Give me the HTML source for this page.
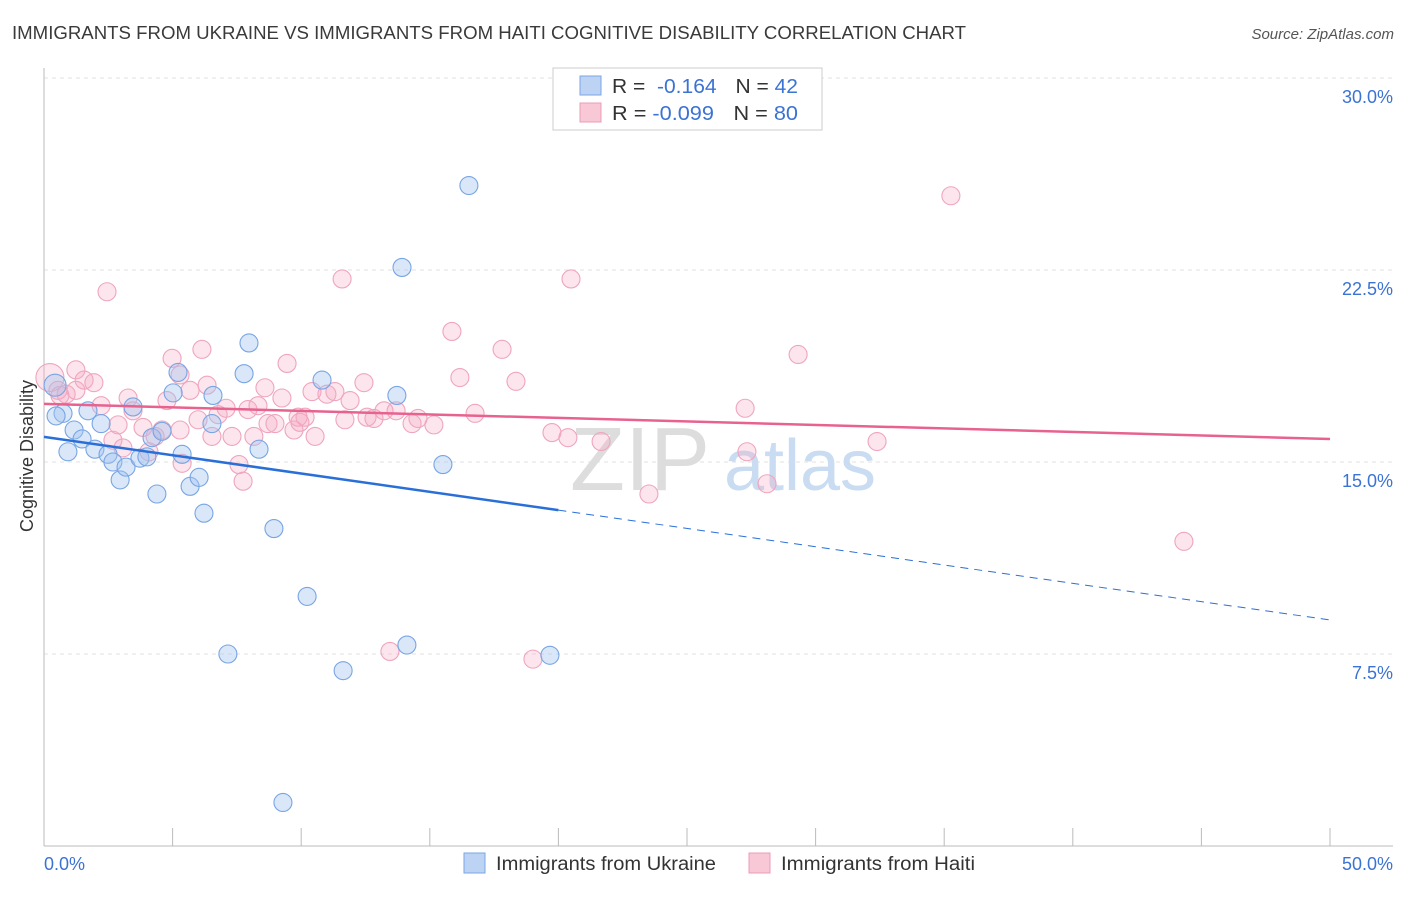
<!DOCTYPE html>
<html><head><meta charset="utf-8"><style>
body{margin:0;background:#fff;font-family:"Liberation Sans",sans-serif;}
svg text{font-family:"Liberation Sans",sans-serif;}
</style></head><body>
<svg id="chart" width="1406" height="892" xmlns="http://www.w3.org/2000/svg">
<text x="12" y="39" font-size="18" fill="#3a3a3a" textLength="954" lengthAdjust="spacingAndGlyphs">IMMIGRANTS FROM UKRAINE VS IMMIGRANTS FROM HAITI COGNITIVE DISABILITY CORRELATION CHART</text>
<text x="1394" y="39" font-size="15" fill="#555" font-style="italic" text-anchor="end">Source: ZipAtlas.com</text>
<g id="grid"></g>
<text x="640" y="490" font-size="90" fill="#ddd" text-anchor="middle" font-family="Liberation Serif">ZIP</text>
<text x="800" y="490" font-size="72" fill="#c9dcf2" text-anchor="middle">atlas</text>
<line x1="44" y1="68" x2="44" y2="846" stroke="#bbb"/>
<line x1="44" y1="846" x2="1393" y2="846" stroke="#bbb"/>
<g id="xticks"></g>
<text x="33" y="456" font-size="18" fill="#333" text-anchor="middle" transform="rotate(-90 33 456)">Cognitive Disability</text>
<text x="44" y="870" font-size="18" fill="#3b73d4">0.0%</text>
<text x="1393" y="870" font-size="18" fill="#3b73d4" text-anchor="end">50.0%</text>
<g id="pts"></g>
<g id="trends"></g>
<g>
<rect x="553" y="68" width="269" height="62" fill="#fff" stroke="#ccc"/>
<rect x="580" y="76" width="21" height="19" fill="#bcd3f3" stroke="#7aa6e6"/>
<rect x="580" y="103" width="21" height="19" fill="#f9c8d7" stroke="#ec9bb5"/>
<text x="612" y="93" font-size="20" fill="#333" textLength="186" lengthAdjust="spacingAndGlyphs">R = <tspan fill="#3b73d4">&#160;-0.164</tspan><tspan dx="18">N = </tspan><tspan fill="#3b73d4">42</tspan></text>
<text x="612" y="120" font-size="20" fill="#333" textLength="186" lengthAdjust="spacingAndGlyphs">R = <tspan fill="#3b73d4">-0.099</tspan><tspan dx="18">N = </tspan><tspan fill="#3b73d4">80</tspan></text>
</g>
<g>
<rect x="464" y="853" width="21" height="20" fill="#bcd3f3" stroke="#7aa6e6"/>
<text x="496" y="870" font-size="19" fill="#333" textLength="220" lengthAdjust="spacingAndGlyphs">Immigrants from Ukraine</text>
<rect x="749" y="853" width="21" height="20" fill="#f9c8d7" stroke="#ec9bb5"/>
<text x="781" y="870" font-size="19" fill="#333" textLength="194" lengthAdjust="spacingAndGlyphs">Immigrants from Haiti</text>
</g>
</svg>
<script>
const yTicks=[7.5,15,22.5,30];
const yTickLabels=["7.5%","15.0%","22.5%","30.0%"];
const xTicks=[0,5,10,15,20,25,30,35,40,45,50];
const ukraineX=[0.43,0.74,0.47,0.93,1.17,1.48,1.71,1.98,2.22,2.49,2.68,2.96,3.19,3.46,3.73,4.0,4.2,4.39,4.59,5.02,5.21,5.37,5.68,6.03,6.22,6.53,6.57,7.15,7.78,7.97,8.36,8.94,9.29,10.23,10.81,11.63,13.72,13.92,14.11,15.51,16.52,19.67];
const ukraineY=[18.0,16.9,16.8,15.4,16.25,15.9,17.0,15.5,16.5,15.3,15.0,14.3,14.8,17.15,15.15,15.2,15.95,13.75,16.2,17.7,18.5,15.3,14.05,14.4,13.0,16.5,17.6,7.5,18.45,19.65,15.5,12.4,1.7,9.75,18.2,6.85,17.6,22.6,7.85,14.9,25.8,7.45];
const haitiX=[0.23,0.54,0.62,0.86,1.24,1.56,1.94,2.22,2.45,2.68,2.88,3.07,3.27,3.46,3.85,4.08,4.32,4.59,4.78,4.98,5.29,5.37,5.68,5.99,6.14,6.34,6.53,6.77,7.08,7.31,7.58,7.74,7.93,8.16,8.32,8.59,8.71,8.98,9.25,9.45,9.72,9.88,10.15,10.42,10.54,11.0,11.31,11.59,11.7,11.9,12.44,12.56,12.83,13.22,13.45,13.69,14.31,14.54,15.16,15.86,16.17,16.76,17.81,18.35,19.01,19.75,20.37,20.49,21.66,23.52,27.26,27.33,28.11,29.32,32.39,35.26,44.32,1.24,5.29,9.95];
const haitiY=[18.3,17.8,17.6,17.65,18.6,18.2,18.1,17.2,21.65,15.85,16.45,15.55,17.5,17.0,16.35,15.4,16.0,16.25,17.4,19.05,18.4,14.95,17.8,16.65,19.4,18.0,16.0,16.85,17.1,16.0,14.9,14.25,17.05,16.0,17.2,17.9,16.5,16.5,17.5,18.85,16.25,16.75,16.75,17.75,16.0,17.65,17.75,22.15,16.65,17.4,18.1,16.75,16.7,17.0,7.6,17.0,16.5,16.7,16.45,20.1,18.3,16.9,19.4,18.15,7.3,16.15,15.95,22.15,15.8,13.75,17.1,15.4,14.15,19.2,15.8,25.4,11.9,17.8,16.25,16.55];
const trendUkraine=[15.98,-0.143];
const trendHaiti=[17.27,-0.0274];
const NS="http://www.w3.org/2000/svg";
const X=v=>44+v*25.72, Y=v=>846-v*25.6;
function mk(tag,attrs,parent){const e=document.createElementNS(NS,tag);for(const k in attrs)e.setAttribute(k,attrs[k]);parent.appendChild(e);return e;}
const grid=document.getElementById('grid');
yTicks.forEach((t,i)=>{
  const l=mk('line',{x1:44,x2:1393,y1:Y(t),y2:Y(t),stroke:'#e2e2e2','stroke-dasharray':'4,4'},grid);
  
  
  const tx=mk('text',{x:1393,y:Y(t)+25,'font-size':18,fill:'#3b73d4','text-anchor':'end'},grid);
  tx.textContent=yTickLabels[i];
  
  
});
const xt=document.getElementById('xticks');
xTicks.forEach(t=>{
  const l=mk('line',{x1:X(t),x2:X(t),y1:828,y2:846,stroke:'#bbb'},xt);
  
  
});
const pts=document.getElementById('pts');
haitiX.forEach((x,i)=>{
  const c=mk('circle',{cx:X(x),cy:Y(haitiY[i]),r:i==0?14:9,fill:'rgba(246,170,196,0.3)',stroke:'#efa5bd','stroke-width':1.1},pts);
  
  
});
ukraineX.forEach((x,i)=>{
  const c=mk('circle',{cx:X(x),cy:Y(ukraineY[i]),r:i==0?11:9,fill:'rgba(160,195,240,0.4)',stroke:'#78a5e4','stroke-width':1.1},pts);
  
  
});
const tr=document.getElementById('trends');
const f=(t,x)=>t[0]+t[1]*x;
let a=mk('line',{x1:X(0),y1:Y(f(trendHaiti,0)),x2:X(50),y2:Y(f(trendHaiti,50)),stroke:'#e8628f','stroke-width':2.5},tr);


let b=mk('line',{x1:X(0),y1:Y(f(trendUkraine,0)),x2:X(20),y2:Y(f(trendUkraine,20)),stroke:'#2a6fd8','stroke-width':2.5},tr);


let c=mk('line',{x1:X(20),y1:Y(f(trendUkraine,20)),x2:X(50),y2:Y(f(trendUkraine,50)),stroke:'#2a6fd8','stroke-width':1,'stroke-dasharray':'8,6'},tr);


</script>
</body></html>
